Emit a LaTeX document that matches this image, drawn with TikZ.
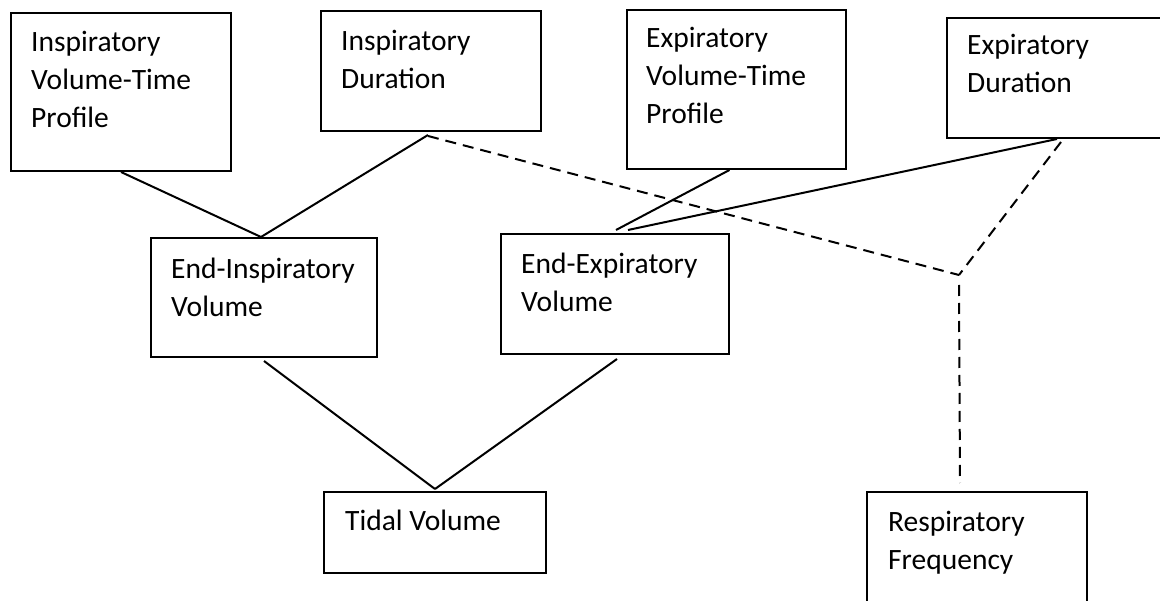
\documentclass[tikz,border=0pt]{standalone}
\usepackage{fontspec}
\setmainfont{Carlito}
\usetikzlibrary{calc}
\newcommand{\boxtext}[1]{\parbox[t]{240pt}{\raggedright #1}}
\tikzset{
  box/.style={draw, line width=2pt, rectangle, inner sep=0pt, anchor=north west},
  lbl/.style={anchor=base west, inner sep=0pt, font=\fontsize{29.5}{38}\selectfont},
  link/.style={line width=2pt},
  dlink/.style={line width=2pt, dash pattern=on 11pt off 7pt},
}
\begin{document}
\begin{tikzpicture}[x=1pt,y=-1pt]
\useasboundingbox (0,0) rectangle (1160,601);
\clip (0,0) rectangle (1160,601);
% boxes
\node[box, minimum width=220pt, minimum height=158pt] (b1) at (10,12) {};
\node[box, minimum width=220pt, minimum height=120pt] (b2) at (320,10) {};
\node[box, minimum width=219pt, minimum height=159pt] (b3) at (626,9) {};
\node[box, minimum width=220pt, minimum height=120pt] (b4) at (946,17) {};
\node[box, minimum width=226pt, minimum height=119pt] (b5) at (150,237) {};
\node[box, minimum width=228pt, minimum height=120pt] (b6) at (500,233) {};
\node[box, minimum width=222pt, minimum height=81pt] (b7) at (323,491) {};
\node[box, minimum width=220pt, minimum height=140pt] (b8) at (866,491) {};
% texts
\node[lbl] (t1) at ($(b1.north west)+(21,40)$) {\boxtext{Inspiratory\\Volume-Time\\Profile}};
\node[lbl] (t2) at ($(b2.north west)+(21,41)$) {\boxtext{Inspiratory\\Duration}};
\node[lbl] (t3) at ($(b3.north west)+(20,39)$) {\boxtext{Expiratory\\Volume-Time\\Profile}};
\node[lbl] (t4) at ($(b4.north west)+(21,38)$) {\boxtext{Expiratory\\Duration}};
\node[lbl] (t5) at ($(b5.north west)+(21,42)$) {\boxtext{End-Inspiratory\\Volume}};
\node[lbl] (t6) at ($(b6.north west)+(21,41)$) {\boxtext{End-Expiratory\\Volume}};
\node[lbl] (t7) at ($(b7.north west)+(22,39)$) {\boxtext{Tidal Volume}};
\node[lbl] (t8) at ($(b8.north west)+(22,41)$) {\boxtext{Respiratory\\Frequency}};
% connectors
\coordinate (j) at (959,275);
\draw[link] (b1.south) -- ([xshift=-3pt]b5.north);
\draw[link] ([xshift=-3pt,yshift=-3pt]b2.south) -- ([xshift=-3pt]b5.north);
\draw[dlink] ([xshift=-3pt,yshift=-4pt]b2.south) -- (j);
\draw[link] ([xshift=-7pt]b3.south) -- ([xshift=1pt,yshift=3pt]b6.north);
\draw[link] (b4.south) -- ([xshift=13pt,yshift=3pt]b6.north);
\draw[dlink] ([xshift=4pt,yshift=-3pt]b4.south) -- (j);
\draw[dlink] ([yshift=-10pt]j) -- ([xshift=-17pt,yshift=8pt]b8.north);
\draw[link] ([yshift=-3pt]b5.south) -- ([yshift=2pt]b7.north);
\draw[link] ([xshift=2pt,yshift=-4pt]b6.south) -- ([yshift=2pt]b7.north);
\end{tikzpicture}
\end{document}
